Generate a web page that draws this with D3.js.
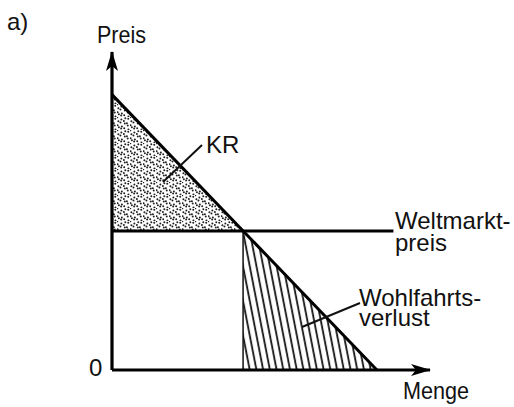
<!DOCTYPE html>
<html><head><meta charset="utf-8">
<script src="https://cdn.jsdelivr.net/npm/d3@7"></script>
<style>body{margin:0;background:#fff}text{font-family:"Liberation Sans",Arial,sans-serif;fill:#111}</style>
</head><body>
<svg id="c" width="514" height="407"></svg>
<script>
// Data (abstract units)
const axisMax = [10, 10];                 // x (Menge), y (Preis)
const demandQ = [0, 8.33];                // demand curve quantities
const demandP = [8.66, 0];                // demand curve prices
const worldPrice = 4.375;                 // Weltmarktpreis
const worldPriceEndQ = 8.85;
const labels = {a:"a)", y:"Preis", x:"Menge", zero:"0", kr:"KR", wm:["Weltmarkt-","preis"], wv:["Wohlfahrts-","verlust"]};

const svg = d3.select("#c");
const x = d3.scaleLinear().domain([0, axisMax[0]]).range([112, 430]);
const y = d3.scaleLinear().domain([0, axisMax[1]]).range([370, 52]);

const slope = (demandP[1]-demandP[0])/(demandQ[1]-demandQ[0]);
const qStar = demandQ[0] + (worldPrice - demandP[0])/slope;

const defs = svg.append("defs");
// stipple pattern (texture)
const dots = [];
const jit = [[0.3,0.2],[1.4,0.9],[0.6,1.7],[1.9,0.4],[1.1,1.3],[0.2,1.0],[1.6,1.8],[0.9,0.5],[1.8,1.2],[0.4,0.7],[1.3,0.1],[0.7,1.5],[1.5,0.6],[0.1,1.9],[1.0,0.8],[1.7,1.6]];
for (let i=0;i<4;i++) for (let j=0;j<4;j++){ const o=jit[i*4+j]; dots.push([i*3.25+o[0], j*3.25+o[1]+ (i%2)*1.2]); }
const pat = defs.append("pattern").attr("id","stip").attr("patternUnits","userSpaceOnUse").attr("width",13).attr("height",13);
pat.selectAll("circle").data(dots).join("circle").attr("cx",d=>d[0]).attr("cy",d=>d[1]%13).attr("r",1.0).attr("fill","#222");
// hatch pattern
const hat = defs.append("pattern").attr("id","hatch").attr("patternUnits","userSpaceOnUse").attr("width",6.6).attr("height",20).attr("patternTransform","rotate(-11)");
hat.append("line").attr("x1",3).attr("y1",-2).attr("x2",3).attr("y2",22).attr("stroke","#111").attr("stroke-width",1.8);
// arrow marker
const mk = defs.append("marker").attr("id","arr").attr("viewBox","0 0 20 12").attr("refX",19).attr("refY",6)
  .attr("markerUnits","userSpaceOnUse").attr("markerWidth",20).attr("markerHeight",12).attr("orient","auto");
mk.append("path").attr("d","M0,0 L20,6 L0,12 L5,6 Z").attr("fill","#000");

const line = d3.line().x(d=>x(d[0])).y(d=>y(d[1]));

svg.append("path").attr("d", line([[0,demandP[0]],[0,worldPrice],[qStar,worldPrice]])+"Z").attr("fill","url(#stip)");
svg.append("path").attr("d", line([[qStar,worldPrice],[qStar,0],[demandQ[1],0]])+"Z").attr("fill","url(#hatch)");

svg.append("path").attr("d", line([[qStar,worldPrice],[qStar,0]])).attr("stroke","#111").attr("stroke-width",1.5).attr("fill","none");
svg.append("path").attr("d", line([[0,worldPrice],[worldPriceEndQ,worldPrice]])).attr("stroke","#000").attr("stroke-width",3).attr("fill","none");
svg.append("path").attr("d", line([[demandQ[0],demandP[0]],[demandQ[1],demandP[1]]])).attr("stroke","#000").attr("stroke-width",3).attr("fill","none");
svg.append("path").attr("d", line([[0,0],[0,axisMax[1]]])).attr("stroke","#000").attr("stroke-width",3.2).attr("fill","none").attr("marker-end","url(#arr)");
svg.append("path").attr("d", line([[0,0],[axisMax[0],0]])).attr("stroke","#000").attr("stroke-width",3.2).attr("fill","none").attr("marker-end","url(#arr)");

svg.append("line").attr("x1",163).attr("y1",182).attr("x2",202).attr("y2",145).attr("stroke","#111").attr("stroke-width",2);
svg.append("line").attr("x1",302).attr("y1",327).attr("x2",360).attr("y2",303).attr("stroke","#111").attr("stroke-width",2);

const fs = 24;
svg.append("text").attr("x",7).attr("y",30).attr("font-size",fs).text(labels.a);
svg.append("text").attr("x",97).attr("y",43).attr("font-size",fs).attr("textLength",49).attr("lengthAdjust","spacingAndGlyphs").text(labels.y);
svg.append("text").attr("x",403).attr("y",399).attr("font-size",fs).attr("textLength",66).attr("lengthAdjust","spacingAndGlyphs").text(labels.x);
svg.append("text").attr("x",89).attr("y",376).attr("font-size",fs).text(labels.zero);
svg.append("text").attr("x",206).attr("y",153).attr("font-size",fs).text(labels.kr);
const t1 = svg.append("text").attr("font-size",fs);
t1.selectAll("tspan").data(labels.wm).join("tspan").attr("x",395).attr("y",(d,i)=>229+i*22).text(d=>d);
const t2 = svg.append("text").attr("font-size",fs);
t2.selectAll("tspan").data(labels.wv).join("tspan").attr("x",359).attr("y",(d,i)=>306+i*20).text(d=>d);
</script>
</body></html>
